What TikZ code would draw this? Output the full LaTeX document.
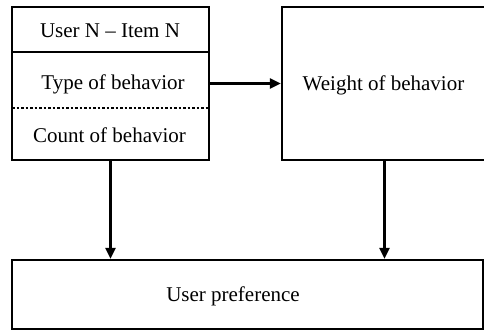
\documentclass[tikz,border=0pt]{standalone}
\usepackage{fontspec}
\setmainfont{Liberation Serif}
\usetikzlibrary{arrows.meta,positioning}
\begin{document}
\begin{tikzpicture}[x=1pt,y=-1pt,
  box/.style={draw=black,line width=2.4pt,rectangle,inner sep=0pt},
  lbl/.style={inner sep=0pt,font=\fontsize{21}{25}\selectfont},
  conn/.style={line width=2.6pt,-{Triangle[length=11pt,width=10pt]}}]
\useasboundingbox (0,0) rectangle (484,331);
\clip (0,0) rectangle (484,331);
\node[box,minimum width=197pt,minimum height=153pt] (left) at (110.5,83.5) {};
\node[box,minimum width=203pt,minimum height=153pt] (right) at (383.5,83.5) {};
\node[box,minimum width=471pt,minimum height=69pt] (bottom) at (247.5,294.5) {};
\draw[line width=2.4pt] (12,52) -- (209,52);
\draw[line width=2.6pt,dash pattern=on 2.5pt off 2pt] (12,108) -- (209,108);
\node[lbl] (ui) at (110,31) {User N – Item N};
\node[lbl] (tb) at (113,84) {Type of behavior};
\node[lbl] (cb) at (109.5,135) {Count of behavior};
\node[lbl] (wb) at (383.5,85) {Weight of behavior};
\node[lbl] (up) at (233,296) {User preference};
\coordinate (rs) at ([xshift=1pt]right.south);
\draw[conn] (left.east) -- (right.west);
\draw[conn] (left.south) -- (left.south |- bottom.north);
\draw[conn] (rs) -- (rs |- bottom.north);
\end{tikzpicture}
\end{document}
